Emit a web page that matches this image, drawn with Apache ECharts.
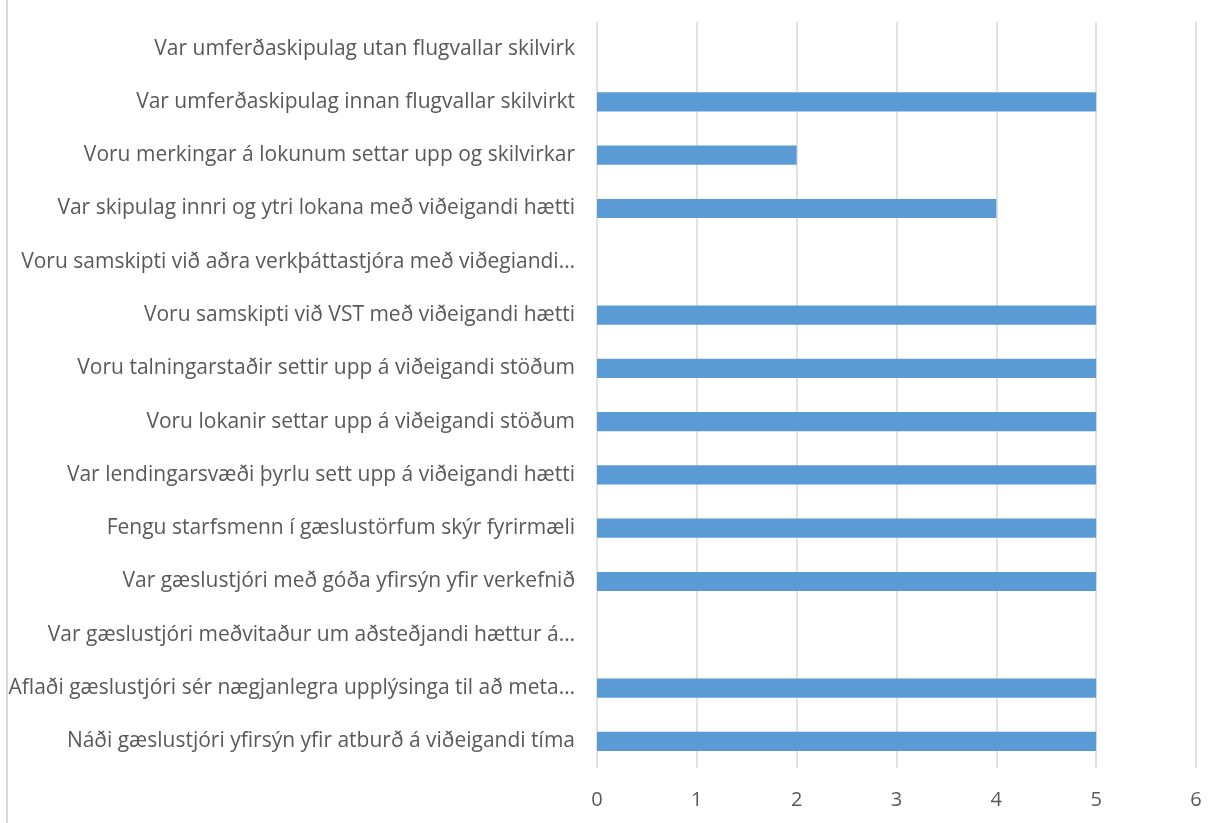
<!DOCTYPE html>
<html><head><meta charset="utf-8">
<script src="https://cdn.jsdelivr.net/npm/echarts@6/dist/echarts.min.js"></script>
<style>html,body{margin:0;padding:0;background:#fff}#c{width:1220px;height:823px}</style>
</head><body><div id="c"></div>
<script>
const categories = [
  "Náði gæslustjóri yfirsýn yfir atburð á viðeigandi tíma",
  "Aflaði gæslustjóri sér nægjanlegra upplýsinga til að meta…",
  "Var gæslustjóri meðvitaður um aðsteðjandi hættur á…",
  "Var gæslustjóri með góða yfirsýn yfir verkefnið",
  "Fengu starfsmenn í gæslustörfum skýr fyrirmæli",
  "Var lendingarsvæði þyrlu sett upp á viðeigandi hætti",
  "Voru lokanir settar upp á viðeigandi stöðum",
  "Voru talningarstaðir settir upp á viðeigandi stöðum",
  "Voru samskipti við VST með viðeigandi hætti",
  "Voru samskipti við aðra verkþáttastjóra með viðegiandi…",
  "Var skipulag innri og ytri lokana með viðeigandi hætti",
  "Voru merkingar á lokunum settar upp og skilvirkar",
  "Var umferðaskipulag innan flugvallar skilvirkt",
  "Var umferðaskipulag utan flugvallar skilvirk"
];
const values = [5, 5, null, 5, 5, 5, 5, 5, 5, null, 4, 2, 5, null];
const xTicks = [0, 1, 2, 3, 4, 5, 6];

const chart = echarts.init(document.getElementById('c'));
const font = '"Open Sans", sans-serif';
chart.setOption({
  animation: false,
  grid: { left: 597, right: 24, top: 22, bottom: 55, containLabel: false, outerBoundsMode: 'none' },
  xAxis: {
    type: 'value', min: xTicks[0], max: xTicks[xTicks.length - 1], interval: 1,
    axisLine: { show: false }, axisTick: { show: false },
    splitLine: { show: true, lineStyle: { color: '#D9D9D9', width: 1.5 } },
    axisLabel: { color: '#595959', fontSize: 20, fontFamily: font, margin: 22 }
  },
  yAxis: {
    type: 'category', data: categories,
    axisLine: { show: false }, axisTick: { show: false },
    axisLabel: { color: '#595959', fontSize: 21, fontFamily: font, margin: 22 }
  },
  series: [{
    type: 'bar', data: values, barWidth: '36%',
    itemStyle: { color: '#5B9BD5' }
  }],
  graphic: [{
    type: 'line', shape: { x1: 7, y1: 0, x2: 7, y2: 823 },
    style: { stroke: '#D9D9D9', lineWidth: 2 }
  }]
});
</script></body></html>
